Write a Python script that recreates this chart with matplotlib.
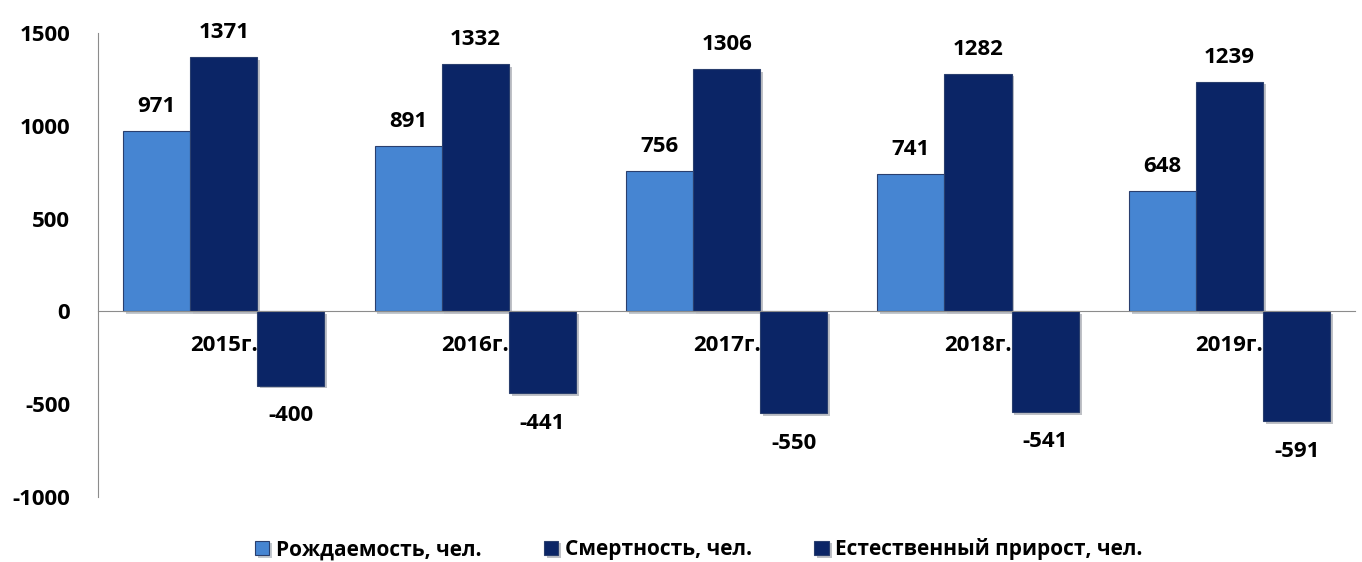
import matplotlib.pyplot as plt
import matplotlib.patheffects as pe
import numpy as np

years = ["2015г.", "2016г.", "2017г.", "2018г.", "2019г."]
births = [971, 891, 756, 741, 648]
deaths = [1371, 1332, 1306, 1282, 1239]
natural_growth = [-400, -441, -550, -541, -591]
series_names = ["Рождаемость, чел.", "Смертность, чел.", "Естественный прирост, чел."]

plt.rcParams["font.family"] = ["Open Sans", "DejaVu Sans"]
plt.rcParams["font.weight"] = "bold"
plt.rcParams["axes.unicode_minus"] = False

FS = 16

fig = plt.figure(figsize=(13.62, 5.62), dpi=100)
ax = fig.add_axes([0.072, 0.1157, 0.923, 0.8253])

x = np.arange(len(years))
width = 0.267
colors = ["#4685D2", "#0B2566", "#0B2566"]
shadow = [pe.SimplePatchShadow(offset=(2, -2), alpha=0.25), pe.Normal()]

for i, (vals, color, name) in enumerate(zip([births, deaths, natural_growth], colors, series_names)):
    bars = ax.bar(x + (i - 1) * width, vals, width, color=color, edgecolor="#2A3F6E",
                  linewidth=0.8, label=name, zorder=2)
    for b in bars:
        b.set_path_effects(shadow)
    for b, v in zip(bars, vals):
        if v >= 0:
            ax.annotate(f"{v}", (b.get_x() + b.get_width() / 2, v), xytext=(0, 10),
                        textcoords="offset points", ha="center", va="bottom",
                        fontsize=FS, fontweight="bold")
        else:
            ax.annotate(f"{v}", (b.get_x() + b.get_width() / 2, v), xytext=(0, -14),
                        textcoords="offset points", ha="center", va="top",
                        fontsize=FS, fontweight="bold")

ax.set_xlim(-0.5, len(years) - 0.5)
ax.set_ylim(-1000, 1500)
ax.set_yticks([-1000, -500, 0, 500, 1000, 1500])
ax.tick_params(axis="y", length=0, pad=20, labelsize=FS)
ax.set_xticks(x)
ax.set_xticklabels(years)
ax.tick_params(axis="x", length=0, pad=17, labelsize=FS)
for lab in ax.get_xticklabels() + ax.get_yticklabels():
    lab.set_fontweight("bold")

ax.spines["top"].set_visible(False)
ax.spines["right"].set_visible(False)
ax.spines["bottom"].set_position(("data", 0))
ax.spines["bottom"].set_color("#8C8C8C")
ax.spines["bottom"].set_zorder(3)
ax.spines["left"].set_color("#8C8C8C")

fig.legend(loc="lower center", bbox_to_anchor=(0.513, -0.03), ncol=3, frameon=False,
           handlelength=0.7, handleheight=0.7, handletextpad=0.3,
           columnspacing=3.0, prop={"weight": "bold", "size": 15})

fig.savefig("out.png", dpi=100)
